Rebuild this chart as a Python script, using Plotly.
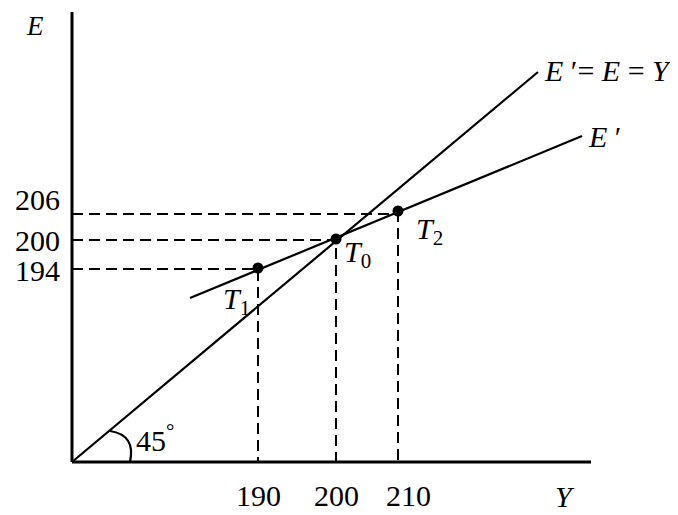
import plotly.graph_objects as go

# Diagram coordinates (schematic units, origin at axes corner)
X_TICK_POS = [186, 264, 326]
X_TICK_LABELS = ["190", "200", "210"]
X_LABEL_POS = [186, 264, 336]
Y_TICK_POS = [193, 222, 248]
Y_TICK_LABELS = ["194", "200", "206"]
Y_LABEL_POS = [192, 222, 263]

# points T1, T0, T2
POINT_X = [186, 264, 326]
POINT_Y = [194, 223, 251]
POINT_LABELS = ["<i>T</i><sub>1</sub>", "<i>T</i><sub>0</sub>", "<i>T</i><sub>2</sub>"]
POINT_LABEL_X = [164, 285, 357]
POINT_LABEL_Y = [161, 208, 231]

# lines
LINE45_X = [0, 466]
LINE45_Y = [0, 390]
EPRIME_X = [118, 510]
EPRIME_Y = [164, 326]

AXIS_X_END = 519
AXIS_Y_END = 450

FONT = "Liberation Serif"
FS = 30

fig = go.Figure()

# dashed guides
for px, py in zip(X_TICK_POS, Y_TICK_POS):
    fig.add_trace(go.Scatter(x=[0, px, px], y=[py, py, 0], mode="lines",
                             line=dict(color="black", width=2, dash="11px,6px"),
                             hoverinfo="skip", showlegend=False))

fig.add_trace(go.Scatter(x=LINE45_X, y=LINE45_Y, mode="lines",
                         line=dict(color="black", width=2.2), showlegend=False))
fig.add_trace(go.Scatter(x=EPRIME_X, y=EPRIME_Y, mode="lines",
                         line=dict(color="black", width=2.2), showlegend=False))

# axes
fig.add_trace(go.Scatter(x=[0, 0], y=[AXIS_Y_END, 0], mode="lines",
                         line=dict(color="black", width=3), showlegend=False))
fig.add_trace(go.Scatter(x=[0, AXIS_X_END], y=[0, 0], mode="lines",
                         line=dict(color="black", width=3), showlegend=False))

# points
fig.add_trace(go.Scatter(x=POINT_X, y=POINT_Y, mode="markers",
                         marker=dict(color="black", size=11), showlegend=False,
                         cliponaxis=False))

# 45 degree arc
fig.add_shape(type="path", path="M 38,31 Q 64,27 58,0", xref="x", yref="y",
              line=dict(color="black", width=2.2))

ann = []
def txt(x, y, t, xanchor="center", size=FS):
    ann.append(dict(x=x, y=y, text=t, showarrow=False, xref="x", yref="y",
                    xanchor=xanchor, yanchor="middle",
                    font=dict(family=FONT, size=size, color="black")))

for p, lab in zip(X_LABEL_POS, X_TICK_LABELS):
    txt(p, -33, lab)
txt(493, -34, "<i>Y</i>")

for p, lab in zip(Y_LABEL_POS, Y_TICK_LABELS):
    txt(-35, p, lab)
txt(-37, 436, "<i>E</i>", size=27)

for lx, ly, lab in zip(POINT_LABEL_X, POINT_LABEL_Y, POINT_LABELS):
    txt(lx, ly, lab)

txt(83, 24, "45<sup>°</sup>")
txt(470, 392, "<i>E</i> ′= <i>E</i> = <i>Y</i>", xanchor="left")
txt(514, 326, "<i>E</i> ′", xanchor="left")

fig.update_layout(
    width=678, height=515,
    margin=dict(l=0, r=0, t=0, b=0),
    paper_bgcolor="white", plot_bgcolor="white",
    xaxis=dict(range=[-64, 614], visible=False, fixedrange=True),
    yaxis=dict(range=[-61, 454], visible=False, fixedrange=True),
    annotations=ann,
    showlegend=False,
)

fig.write_html("out.html")
